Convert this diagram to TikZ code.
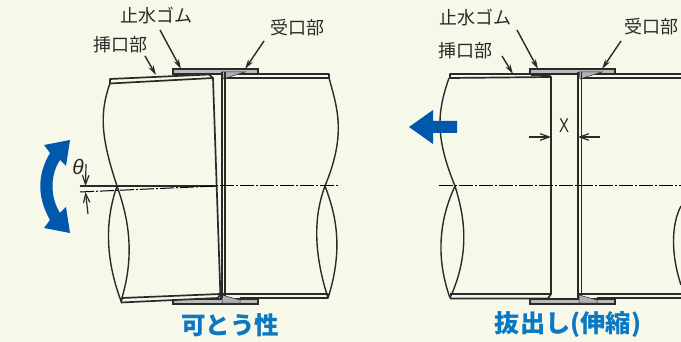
\documentclass[tikz,border=0pt]{standalone}
\usepackage{fontspec}
\newfontfamily\jpf{Noto Sans CJK JP}
\setsansfont{Liberation Sans}
\usetikzlibrary{arrows.meta}
\definecolor{bgc}{HTML}{F6F8EA}
\definecolor{inkc}{HTML}{2A2A2A}
\definecolor{grayc}{HTML}{B0B0B0}
\definecolor{arrowblue}{HTML}{0058AC}
\definecolor{titleblue}{HTML}{0B78C4}
\tikzset{
  lbl/.style={font=\jpf\fontsize{18}{19}\selectfont,text=inkc,inner sep=0pt},
  ttl/.style={font=\jpf\bfseries\fontsize{24.5}{26}\selectfont,text=titleblue,inner sep=0pt},
  pipe/.style={draw=inkc,line width=1.7pt,line join=round},
  thin pipe/.style={draw=inkc,line width=1.4pt},
  wedge/.style={fill=grayc,draw=inkc,line width=.5pt},
  flange/.style={fill=grayc!85!bgc,draw=inkc,line width=1.4pt},
  lead/.style={draw=inkc,line width=1.4pt,-{Stealth[length=10pt,width=5.5pt]}},
  dim/.style={draw=inkc,line width=1.2pt,-{Straight Barb[length=9pt,width=6.5pt]}},
  center line/.style={draw=black,line width=1pt,dash pattern=on 14pt off 2pt on 2pt off 2pt},
  blue shape/.style={fill=arrowblue,draw=none}
}
\begin{document}
\begin{tikzpicture}[x=1pt,y=-1pt]
\useasboundingbox[fill=bgc] (0,0) rectangle (681,342);

% ---------- left figure ----------
\draw[flange] (173,69) rectangle (258,74);
\draw[flange] (173,299) rectangle (258,304);
\fill[inkc] (174,73) rectangle (191,76);
\fill[inkc] (174,298) rectangle (191,300);
% receiver pipe
\draw[pipe] (222,74) -- (329,74) -- (329,78) -- (225,78);
\draw[pipe] (222,294) -- (328,294) -- (328,298) -- (240,298);
\draw[wedge] (222,72) -- (245,72) -- (223,79) -- cycle;
\draw[wedge] (222,295) -- (240,300) -- (240,303) -- (222,303) -- cycle;
\draw[pipe] (222,72) -- (222,298);
\draw[pipe] (225,72) -- (225,296);
\draw[thin pipe] (329,78) .. controls (338,110) and (346,135) .. (325,186)
  .. controls (316,210) and (311,245) .. (328,298);
\draw[thin pipe] (325,186) .. controls (334,210) and (345,245) .. (328,298);
% spigot pipe
\fill[bgc] (109,79) -- (209,74) -- (213,79) -- (110,84) -- cycle;
\draw[pipe] (110,79) -- (209,74.5) -- (213,78) -- (110,83.5) -- cycle;
\draw[pipe] (213,78) -- (220.5,298);
\fill[bgc] (121,298) -- (220,294) -- (220,298) -- (121,303) -- cycle;
\draw[pipe] (122,298) -- (220,294);
\draw[pipe] (121,302.5) -- (218,298) -- (220.5,294);
\draw[pipe] (122,298) -- (121,302.5);
\draw[thin pipe] (110,83) .. controls (100,112) and (100,135) .. (117,186)
  .. controls (126,212) and (137,250) .. (121,301);
\draw[thin pipe] (117,186) .. controls (108,212) and (102,250) .. (121,301);
% centre lines
\draw[center line] (80,186) -- (340,186);
\draw[line width=1.1pt,draw=inkc] (80,186) -- (216,186);
\draw[center line] (80,192) -- (216,186);
% theta
\coordinate (tha) at (86,164);
\coordinate (thb) at (85.5,186);
\coordinate (thc) at (88,214);
\coordinate (thd) at (85.5,192);
\draw[dim] (tha) -- (thb);
\draw[dim] (thc) -- (thd);
\node[inner sep=0pt,text=inkc,font=\fontsize{21}{22}\selectfont\sffamily\itshape] (theta) at (78,167) {θ};
% blue double arrow
\fill[blue shape] (70,140) -- (44,145) -- (50,153) .. controls (37,175) and (37,197) .. (50,220)
  -- (44,228) -- (70,233) -- (66,207) -- (60,213) .. controls (50,197) and (50,175) .. (60,160)
  -- (66,166) -- cycle;
% leaders and labels
\node[lbl] (w1) at (156,16) {止水ゴム};
\node[lbl] (s1) at (120,45) {挿口部};
\node[lbl] (r1) at (297,28) {受口部};
\coordinate (w1a) at (160,30); \coordinate (w1b) at (181,69);
\coordinate (s1a) at (145,56); \coordinate (s1b) at (156,75);
\coordinate (r1a) at (264,41); \coordinate (r1b) at (245,69);
\draw[lead] (w1a) -- (w1b);
\draw[lead] (s1a) -- (s1b);
\draw[lead] (r1a) -- (r1b);
\node[ttl] (t1) at (230,325) {可とう性};

% ---------- right figure ----------
\draw[flange] (530,69) rectangle (615,74);
\draw[flange] (530,299) rectangle (615,304);
\fill[inkc] (531,73) rectangle (548,76);
\fill[inkc] (531,298) rectangle (548,300);
% receiver pipe
\draw[pipe] (579,74) -- (681,74);
\draw[pipe] (582,78) -- (681,78);
\draw[pipe] (579,294) -- (681,294);
\draw[pipe] (597,298) -- (681,298);
\draw[wedge] (579,72) -- (602,72) -- (580,79) -- cycle;
\draw[wedge] (579,295) -- (597,300) -- (597,303) -- (579,303) -- cycle;
\draw[pipe] (578,72) -- (578,298);
\draw[pipe] (581.5,72) -- (581.5,296);
\draw[thin pipe] (681,206) .. controls (671,225) and (671,255) .. (681,285);
% spigot pipe
\draw[pipe] (450,74) -- (548,74) -- (551,77) -- (450,78) -- cycle;
\draw[pipe] (551,77) -- (551,294) -- (548,298.5) -- (450,298.5);
\draw[pipe] (450,294) -- (551,294);
\draw[thin pipe] (449,78) .. controls (438,110) and (434,135) .. (455,186)
  .. controls (463,212) and (472,250) .. (450,298);
\draw[thin pipe] (455,186) .. controls (443,212) and (433,250) .. (450,298);
% centre line
\draw[center line] (439,186) -- (681,186);
% X dimension
\coordinate (xa) at (529,137); \coordinate (xb) at (551,137);
\coordinate (xc) at (600,137); \coordinate (xd) at (578,137);
\draw[dim] (xa) -- (xb);
\draw[dim] (xc) -- (xd);
\node[inner sep=0pt,text=inkc,font=\sffamily\fontsize{20}{21}\selectfont,xscale=.75] (xl) at (564,126) {X};
% blue arrow
\fill[blue shape] (409,127) -- (433,110) -- (433,121) -- (457,121) -- (457,133) -- (433,133) -- (433,144) -- cycle;
% leaders and labels
\node[lbl] (w2) at (475,18) {止水ゴム};
\node[lbl] (s2) at (465,51) {挿口部};
\node[lbl] (r2) at (651,27) {受口部};
\coordinate (w2a) at (517,30); \coordinate (w2b) at (538,69);
\coordinate (s2a) at (502,56); \coordinate (s2b) at (513,74);
\coordinate (r2a) at (621,41); \coordinate (r2b) at (602,69);
\draw[lead] (w2a) -- (w2b);
\draw[lead] (s2a) -- (s2b);
\draw[lead] (r2a) -- (r2b);
\node[ttl,xscale=1.03] (t2) at (568,325) {抜出し(伸縮)};
\end{tikzpicture}
\end{document}
